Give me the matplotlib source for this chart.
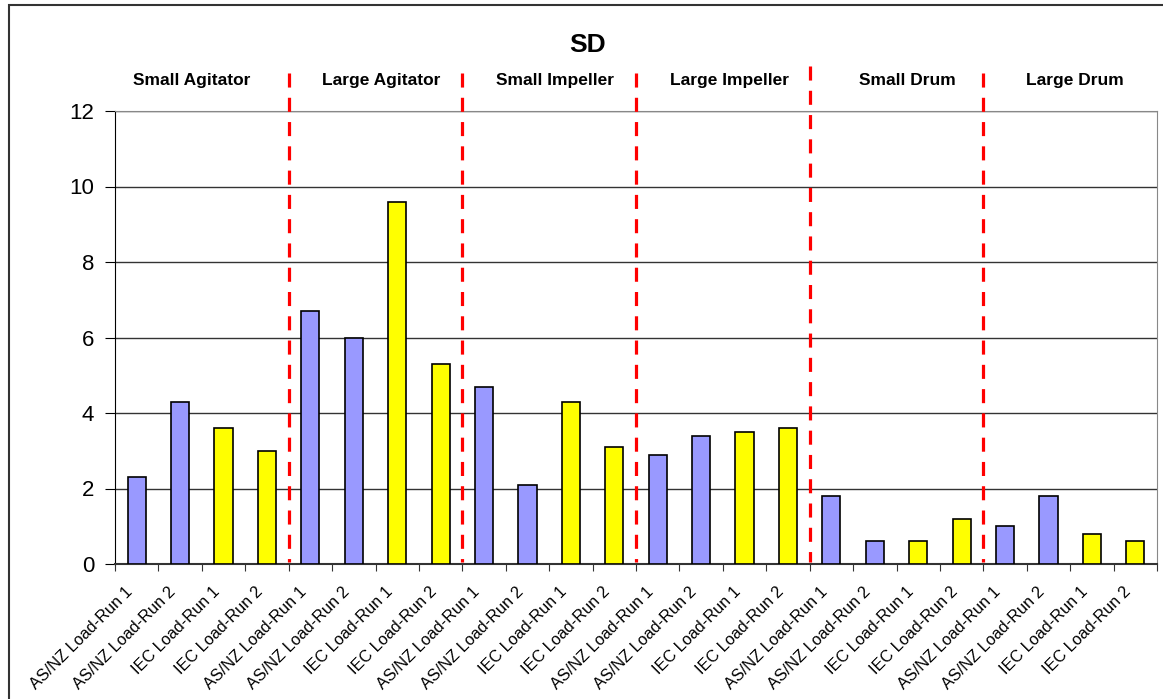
import matplotlib
matplotlib.use("Agg")
import matplotlib.pyplot as plt
import matplotlib.transforms as mtransforms
from matplotlib.patches import Rectangle
import numpy as np

plt.rcParams['font.family'] = ['Liberation Sans', 'DejaVu Sans']

title = "SD"
groups = ["Small Agitator", "Large Agitator", "Small Impeller", "Large Impeller", "Small Drum", "Large Drum"]
runs = ["AS/NZ Load-Run 1", "AS/NZ Load-Run 2", "IEC Load-Run 1", "IEC Load-Run 2"]
values = [2.3, 4.3, 3.6, 3.0,
          6.7, 6.0, 9.6, 5.3,
          4.7, 2.1, 4.3, 3.1,
          2.9, 3.4, 3.5, 3.6,
          1.8, 0.6, 0.6, 1.2,
          1.0, 1.8, 0.8, 0.6]
run_colors = ["#9999FF", "#9999FF", "#FFFF00", "#FFFF00"]
yticks = [0, 2, 4, 6, 8, 10, 12]

# small placement tweaks for the hand-placed group labels / divider tops
label_shift = [-0.23, 0.13, 0.13, 0.16, 0.26, 0.11]
divider_top = [13.0, 13.0, 13.0, 13.2, 13.0]

W, H = 1163, 699
fig = plt.figure(figsize=(W / 100, H / 100), dpi=100)
ax = fig.add_axes([115 / W, 1 - 564 / H, (1157 - 115) / W, (564 - 111) / H])

labels = runs * len(groups)
colors = run_colors * len(groups)
x = np.arange(len(values))
ax.bar(x, values, width=0.42, color=colors, edgecolor="black", linewidth=1.2, zorder=3)

ax.set_xlim(-0.5, len(values) - 0.5)
ax.set_ylim(0, 12)
ax.set_yticks(yticks)
ax.set_yticklabels([str(t) for t in yticks], fontsize=16)
ax.yaxis.grid(True, color="#333333", linewidth=1.0, zorder=0)
ax.set_axisbelow(True)

# x ticks at category boundaries, labels at centres
ax.set_xticks(np.arange(len(values) + 1) - 0.5)
ax.set_xticklabels([])
ax.set_xticks(x, minor=True)
ax.set_xticklabels(labels, minor=True, rotation=45, ha="right", rotation_mode="anchor", fontsize=11.7)
ax.tick_params(axis="x", which="minor", length=0, pad=8)
ax.tick_params(axis="x", which="major", length=5, direction="out", color="#333333")
ax.tick_params(axis="y", length=7, direction="out", pad=8)

offset = mtransforms.ScaledTranslation(-12 / 100, -9 / 100, fig.dpi_scale_trans)
for lab in ax.get_xticklabels(minor=True):
    lab.set_transform(lab.get_transform() + offset)

for s in ["top", "right"]:
    ax.spines[s].set_color("#888888")
ax.spines["left"].set_color("black")
ax.spines["bottom"].set_color("#333333")
ax.spines["bottom"].set_linewidth(1.5)

n = len(runs)
for g in range(1, len(groups)):
    xb = g * n - 0.5
    ax.plot([xb, xb], [divider_top[g - 1], 0.05], color="#FF0000", linewidth=2.3,
            linestyle=(0, (4.4, 3.2)), clip_on=False, zorder=4)

for g, name in enumerate(groups):
    ax.text(g * n + (n - 1) / 2 + label_shift[g], 12.8, name, ha="center", va="center",
            fontsize=12.5, fontweight="bold", clip_on=False)

fig.text(588 / W, 1 - 45 / H, title, ha="center", va="center",
         fontsize=19, fontweight="bold")

fig.patches.append(Rectangle((9 / W, -0.1), 1.2, 1 - 5 / H + 0.1, transform=fig.transFigure,
                             fill=False, edgecolor="#333333", linewidth=1.5))

fig.savefig("out.png", dpi=100)
